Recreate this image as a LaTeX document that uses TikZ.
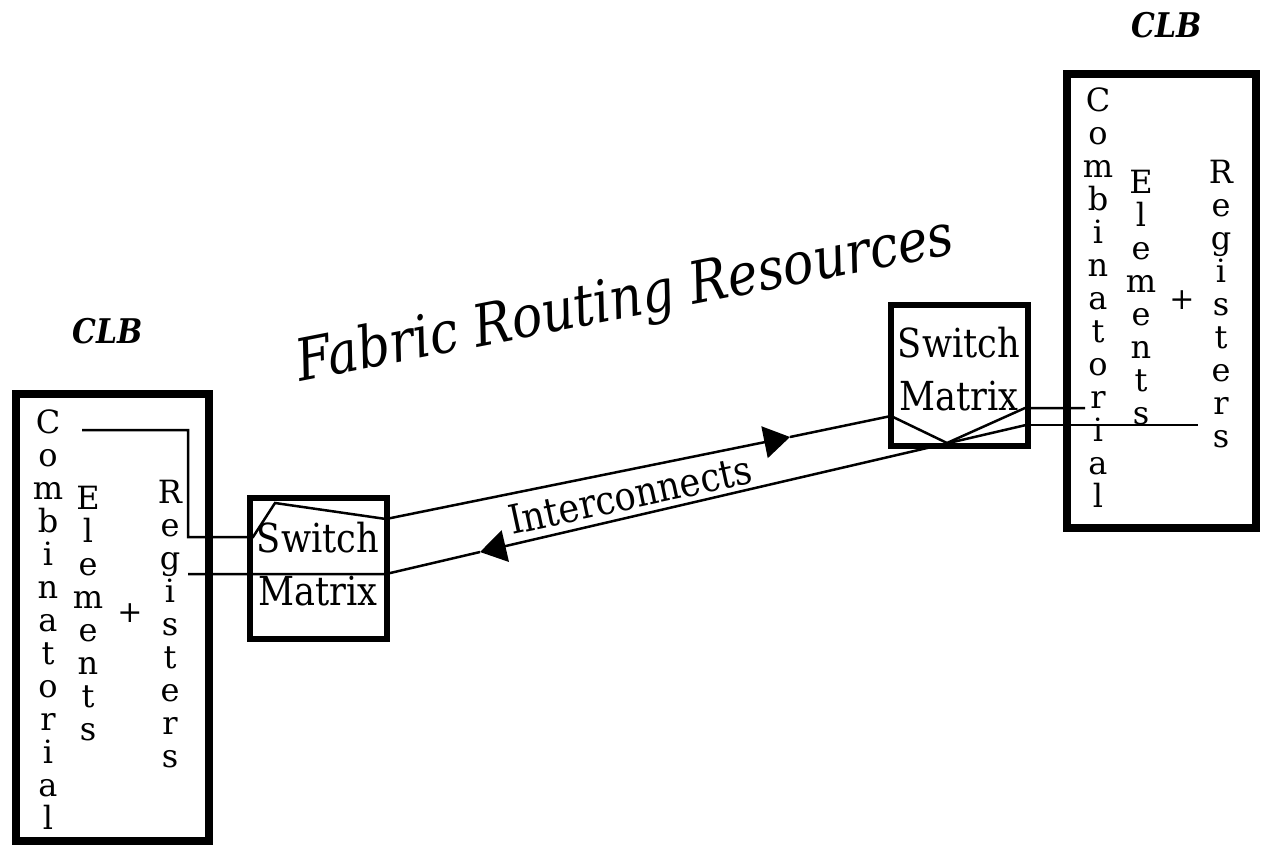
\documentclass[tikz,border=0pt]{standalone}
\usepackage{fontspec}
\setmainfont{DejaVu Serif}
\newfontfamily\narrowserif{DejaVu Serif}[FakeStretch=0.88]
\usetikzlibrary{arrows.meta}

% Letters stacked one per line at a fixed pitch
\newcommand{\stackfont}{\fontsize{32}{33}\selectfont\lineskiplimit=-100pt\relax}

\tikzset{
  clbbox/.style={draw, line width=8pt, inner sep=0pt},
  smbox/.style={draw, line width=6pt, inner sep=0pt, minimum width=137pt, minimum height=141pt},
  wire/.style={line width=2.5pt},
  flow/.style={-{Triangle[length=26pt,width=32pt]}},
  column/.style={align=center, inner sep=0pt, anchor=north, font=\stackfont},
  plus/.style={inner sep=0pt, font=\fontsize{30}{33}\selectfont},
  smtext/.style={anchor=base, inner sep=0pt, font=\narrowserif\fontsize{40}{48}\selectfont},
  clblabel/.style={anchor=base, inner sep=0pt, font=\narrowserif\bfseries\itshape\fontsize{34}{40}\selectfont},
  title/.style={anchor=base west, inner sep=0pt, font=\narrowserif\itshape\fontsize{58}{64}\selectfont},
  linklabel/.style={anchor=base west, inner sep=0pt, font=\narrowserif\fontsize{40}{48}\selectfont}
}

\begin{document}
\begin{tikzpicture}[x=1pt, y=-1pt]
  \useasboundingbox (0,0) rectangle (1264,846);

  % Configurable logic blocks
  \node[clbbox, minimum width=193pt, minimum height=447pt] (clbL) at (112.5,617.5) {};
  \node[clbbox, minimum width=189pt, minimum height=454pt] (clbR) at (1161.5,301) {};
  \node[clblabel] (clbLlabel) at (108,343) {CLB};
  \node[clblabel] (clbRlabel) at (1167,37) {CLB};

  % Stacked letters inside the left block
  \node[column] (combL) at (48,410) {C\\o\\m\\b\\i\\n\\a\\t\\o\\r\\i\\a\\l};
  \node[column] (elemL) at (88,486) {E\\l\\e\\m\\e\\n\\t\\s};
  \node[plus] (plusL) at (130,613) {+};
  \node[column] (regL) at (170,480) {R\\e\\g\\i\\s\\t\\e\\r\\s};

  % Stacked letters inside the right block
  \node[column] (combR) at (1098,88) {C\\o\\m\\b\\i\\n\\a\\t\\o\\r\\i\\a\\l};
  \node[column] (elemR) at (1141,170) {E\\l\\e\\m\\e\\n\\t\\s};
  \node[plus] (plusR) at (1182,300) {+};
  \node[column] (regR) at (1221,160) {R\\e\\g\\i\\s\\t\\e\\r\\s};

  % Switch matrices
  \node[smbox] (smL) at (318,568.5) {};
  \node[smtext] (smLa) at (318,552) {Switch};
  \node[smtext] (smLb) at (318,605) {Matrix};
  \node[smbox] (smR) at (959.5,375.5) {};
  \node[smtext] (smRa) at (959,357) {Switch};
  \node[smtext] (smRb) at (959,410) {Matrix};

  % Labels
  \node[title, rotate=11.1] (fabric) at (300,382) {Fabric Routing Resources};
  \node[linklabel, rotate=12.2] (links) at (512,535) {Interconnects};

  % Wire points
  \coordinate (p1) at (82,430);
  \coordinate (p2) at (188,430);
  \coordinate (p3) at (188,537);
  \coordinate (p4) at (253,537);
  \coordinate (p5) at (275,503);
  \coordinate (p6) at (386,519);
  \coordinate (arT) at (790,437);
  \coordinate (p7) at (891,416);
  \coordinate (p8) at (947,443);
  \coordinate (p9) at (1025,408);
  \coordinate (p10) at (1085,408);

  \coordinate (q1) at (188,574);
  \coordinate (q2) at (386,574);
  \coordinate (arB) at (480,552);
  \coordinate (q4) at (1026,425);
  \coordinate (q5) at (1198,425);

  % Upper route: left block to right block
  \draw[wire] (p1) -- (p2) -- (p3) -- (p4) -- (p5) -- (p6);
  \draw[wire, flow] (p6) -- (arT);
  \draw[wire] (arT) -- (p7) -- (p8) -- (p9) -- (p10);

  % Lower route: right block back to left block
  \draw[wire] (q1) -- (q2) -- (arB);
  \draw[wire, flow] (q4) -- (arB);
  \draw[wire] (q4) -- (q5);
\end{tikzpicture}
\end{document}
